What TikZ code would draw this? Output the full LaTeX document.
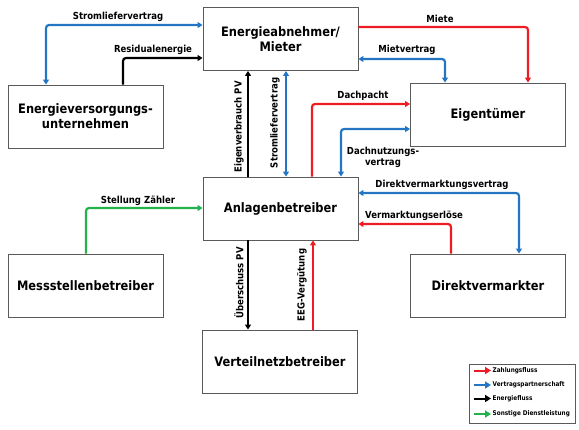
\documentclass[tikz,border=0pt]{standalone}
\usepackage{fontspec}
\setmainfont{DejaVu Sans}[FakeStretch=0.88]
\usetikzlibrary{arrows.meta}
\definecolor{cred}{RGB}{237,28,36}
\definecolor{cblue}{RGB}{36,118,196}
\definecolor{cgreen}{RGB}{34,177,76}
\definecolor{boxgray}{RGB}{90,90,90}
\tikzset{
  box/.style={draw=boxgray, line width=0.9pt, fill=white, minimum width=155pt, minimum height=63pt,
    font=\bfseries\fontsize{13}{15}\selectfont, align=center, inner sep=0pt},
  lab/.style={font=\bfseries\fontsize{9.7}{11.5}\selectfont, inner sep=0pt, align=center},
  leglab/.style={font=\bfseries\fontsize{6.5}{7}\selectfont, inner sep=0pt, anchor=west},
  conn/.style={line width=2.2pt, rounded corners=3pt},
  onetip/.style={-{Triangle[length=5pt,width=6pt]}},
  twotips/.style={{Triangle[length=5pt,width=6pt]}-{Triangle[length=5pt,width=6pt]}},
  legarrow/.style={line width=2pt, -{Triangle[length=6pt,width=7pt]}}
}
\begin{document}
\begin{tikzpicture}[x=1pt,y=-1pt]
\useasboundingbox (0,0) rectangle (579,429);
% boxes
\node[box] (ea)  at (280.5,39)   {Energieabnehmer/\\Mieter};
\node[box] (evu) at (85.5,116.5) {Energieversorgungs-\\unternehmen};
\node[box] (eig) at (488,114.5)  {Eigentümer};
\node[box] (ab)  at (280.5,208.5){Anlagenbetreiber};
\node[box] (msb) at (85.5,285.5) {Messstellenbetreiber};
\node[box] (dv)  at (488,285.5)  {Direktvermarkter};
\node[box] (vnb) at (280,361.5)  {Verteilnetzbetreiber};
% helper levels
\coordinate (y25) at (0,25);
\coordinate (y27) at (0,27);
\coordinate (y58) at (0,58);
\coordinate (y59) at (0,59);
\coordinate (y104) at (0,104);
\coordinate (y129) at (0,129);
\coordinate (y193) at (0,193);
\coordinate (y208) at (0,208);
\coordinate (y224) at (0,224);
\coordinate (x46) at (46,0);
\coordinate (x86) at (86,0);
\coordinate (x123) at (123,0);
\coordinate (x248) at (248,0);
\coordinate (x286) at (286,0);
\coordinate (x312) at (312,0);
\coordinate (x313) at (313,0);
\coordinate (x341) at (341,0);
\coordinate (x445) at (445,0);
\coordinate (x451) at (451,0);
\coordinate (x519) at (519,0);
\coordinate (x528) at (528,0);
% connectors
\draw[conn,cblue,twotips] (ea.west |- y25) -| (x46 |- evu.north);
\draw[conn,black,onetip] (x123 |- evu.north) |- (ea.west |- y58);
\draw[conn,cred,onetip] (ea.east |- y27) -| (x528 |- eig.north);
\draw[conn,cblue,twotips] (ea.east |- y59) -| (x445 |- eig.north);
\draw[conn,cred,onetip] (x312 |- ab.north) |- (eig.west |- y104);
\draw[conn,cblue,twotips] (x341 |- ab.north) |- (eig.west |- y129);
\draw[conn,black,onetip] (x248 |- ab.north) -- (x248 |- ea.south);
\draw[conn,cblue,twotips] (x286 |- ea.south) -- (x286 |- ab.north);
\draw[conn,cgreen,onetip] (x86 |- msb.north) |- (ab.west |- y208);
\draw[conn,cblue,twotips] (ab.east |- y193) -| (x519 |- dv.north);
\draw[conn,cred,onetip] (x451 |- dv.north) |- (ab.east |- y224);
\draw[conn,black,onetip] (x248 |- ab.south) -- (x248 |- vnb.north);
\draw[conn,cred,onetip] (x313 |- vnb.north) -- (x313 |- ab.south);
% labels
\node[lab] (l1) at (118,17) {Stromliefervertrag};
\node[lab] (l2) at (153,50) {Residualenergie};
\node[lab] (l3) at (440,18.5) {Miete};
\node[lab] (l4) at (407,50) {Mietvertrag};
\node[lab] (l5) at (363,96) {Dachpacht};
\node[lab] (l6) at (383,157.5) {Dachnutzungs-\\vertrag};
\node[lab] (l7) at (442,185) {Direktvermarktungsvertrag};
\node[lab] (l8) at (414,216) {Vermarktungserlöse};
\node[lab] (l9) at (138,200.5) {Stellung Zähler};
\node[lab,rotate=90] (l10) at (239,127) {Eigenverbrauch PV};
\node[lab,rotate=90] (l11) at (275,123) {Stromliefervertrag};
\node[lab,rotate=90] (l12) at (239,283) {Überschuss PV};
\node[lab,rotate=90] (l13) at (302,285) {EEG-Vergütung};
% legend
\node[draw=boxgray, line width=0.8pt, minimum width=106pt, minimum height=59pt, inner sep=0pt] (leg) at (522,393.5) {};
\coordinate (ls1) at (474,370.5); \coordinate (le1) at (491,370.5);
\coordinate (ls2) at (474,385);   \coordinate (le2) at (491,385);
\coordinate (ls3) at (474,398.5); \coordinate (le3) at (491,398.5);
\coordinate (ls4) at (474,414);   \coordinate (le4) at (491,414);
\draw[legarrow,cred] (ls1) -- (le1);
\draw[legarrow,cblue] (ls2) -- (le2);
\draw[legarrow,black] (ls3) -- (le3);
\draw[legarrow,cgreen] (ls4) -- (le4);
\node[leglab] (t1) at (492.5,370.5) {Zahlungsfluss};
\node[leglab] (t2) at (492.5,385) {Vertragspartnerschaft};
\node[leglab] (t3) at (492.5,398.5) {Energiefluss};
\node[leglab] (t4) at (492.5,414) {Sonstige Dienstleistung};
\end{tikzpicture}
\end{document}
